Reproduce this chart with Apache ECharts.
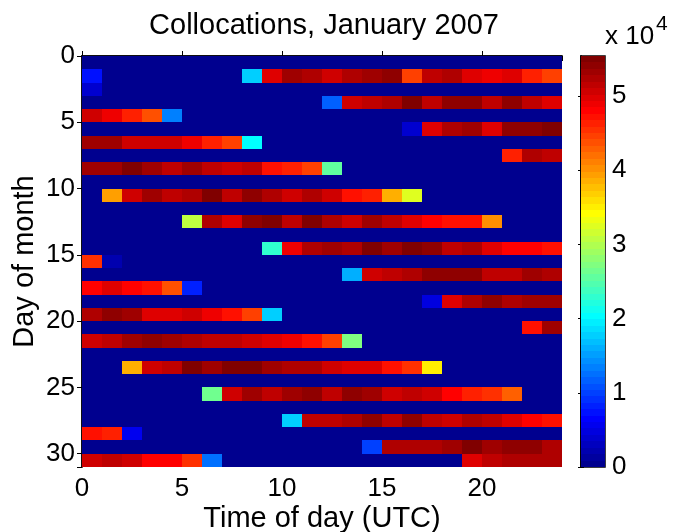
<!DOCTYPE html>
<html>
<head>
<meta charset="utf-8">
<script src="https://cdn.jsdelivr.net/npm/echarts@6/dist/echarts.min.js"></script>
<style>
  html, body { margin: 0; padding: 0; background: #fff; }
  #chart { width: 674px; height: 532px; }
</style>
</head>
<body>
<div id="chart"></div>
<script>
// Grid size: 24 hourly columns, 31 rows (one per day of the month)
const hoursPerDay = 24;
const rowsInMonth = 31;

// Axis ticks
const hourTickStep = 5;
const dayTickStep = 5;
const colorTickStep = 10000;
const colorTickScale = 1e4;   // colorbar labels are shown as multiples of 10^4
const colorMax = 55400;       // largest collocation count (top of the colour scale)

// Collocation counts: each run is a row, the hour of its first cell and the counts that follow
const runRow       = [1, 1, 2, 3, 4, 5, 6, 7, 8, 10, 12, 14, 15, 16, 17, 18, 19, 20, 21, 23, 25, 27, 28, 29, 30, 30];
const runStartHour = [0, 8, 0, 12, 0, 16, 0, 21, 0, 1, 5, 9, 0, 13, 0, 17, 0, 22, 0, 2, 6, 10, 0, 14, 0, 19];
const runCounts = [
  [7400],
  [17700, 49800, 53200, 52400, 50600, 52400, 53200, 54100, 44600, 51500, 52400, 49800, 48900, 49800, 46300, 44600],
  [3900],
  [11700, 50600, 51500, 52400, 55000, 51500, 54100, 54100, 51500, 54100, 51500, 49800],
  [50600, 48900, 46300, 43700, 13400],
  [3900, 49800, 52400, 53200, 49800, 54100, 54100, 55000],
  [53200, 53200, 50600, 50600, 50600, 48900, 46300, 44600, 20300],
  [46300, 52400, 51500],
  [53200, 53200, 55400, 53200, 51500, 53200, 51500, 50600, 51500, 47200, 46300, 44600, 25500],
  [39400, 50600, 53200, 51500, 52400, 55000, 51500, 54100, 52400, 50600, 52400, 50600, 47200, 46300, 38500, 32500],
  [30700, 52400, 49800, 54100, 55000, 51500, 55000, 52400, 50600, 53200, 51500, 49800, 48000, 47200, 47200, 40200],
  [22900, 48900, 52400, 53200, 52400, 55000, 53200, 55000, 54100, 51500, 52400, 49800, 48000, 48000, 47200],
  [45400, 2200],
  [16000, 50600, 51500, 52400, 54100, 54100, 54100, 51500, 51500, 53200, 52400],
  [48000, 49800, 48000, 47200, 43700, 8200],
  [4800, 49800, 52400, 54100, 52400, 53200, 53200],
  [52400, 54100, 53200, 49800, 49800, 50600, 48900, 47200, 44600, 17700],
  [47200, 53200],
  [50600, 51500, 53200, 54100, 53200, 52400, 51500, 51500, 50600, 49800, 48900, 47200, 44600, 27300],
  [38500, 50600, 51500, 55000, 53200, 55000, 55000, 53200, 52400, 52400, 50600, 49800, 49800, 47200, 45400, 35100],
  [26400, 50600, 53200, 51500, 53200, 54100, 51500, 54100, 53200, 50600, 51500, 50600, 48000, 46300, 45400, 42800],
  [17700, 51500, 51500, 52400, 54100, 51500, 54100, 51500, 50600, 52400, 51500, 49800, 48000, 47200],
  [47200, 46300, 5600],
  [9900, 52400, 52400, 52400, 53200, 55000, 53200, 54100, 54100, 52400],
  [50600, 51500, 50600, 48000, 48000, 45400, 12600],
  [49800, 51500, 52400, 52400, 52400]
];

// Full day x hour table; hours without collocations hold 0
const table = Array.from({ length: rowsInMonth }, () => new Array(hoursPerDay).fill(0));
runRow.forEach((row, k) => {
  runCounts[k].forEach((v, j) => { table[row][runStartHour[k] + j] = v; });
});
const cells = [];
table.forEach((row, r) => row.forEach((v, h) => cells.push([h, r, v])));

// 64-step "jet" colour map
function jet(n) {
  const m = Math.ceil(n / 4);
  const u = [];
  for (let i = 1; i <= m; i++) u.push(i / m);
  for (let i = 1; i < m; i++) u.push(1);
  for (let i = m; i >= 1; i--) u.push(i / m);
  const g0 = Math.ceil(m / 2) - (n % 4 === 1 ? 1 : 0);
  const cmap = Array.from({ length: n }, () => [0, 0, 0]);
  u.forEach((val, k) => {
    const g = g0 + k + 1, r = g + m, b = g - m;
    if (g >= 1 && g <= n) cmap[g - 1][1] = val;
    if (r >= 1 && r <= n) cmap[r - 1][0] = val;
    if (b >= 1 && b <= n) cmap[b - 1][2] = val;
  });
  return cmap.map(c => 'rgb(' + c.map(x => Math.round(x * 255)).join(',') + ')');
}
const levels = 64;
const colors = jet(levels);
const step = colorMax / levels;
const pieces = colors.map((c, i) => (
  i === levels - 1 ? { gte: i * step, lte: colorMax, color: c } : { gte: i * step, lt: (i + 1) * step, color: c }
));
const colorbarCells = colors.map((c, i) => [i * step, (i + 1) * step, (i + 0.5) * step]);

const FONT = "'Liberation Sans', Arial, Helvetica, sans-serif";
const black = '#000';

function frameAxis(extra) {
  return Object.assign({
    type: 'value',
    axisLine: { show: true, lineStyle: { color: black, width: 1.5 } },
    axisTick: { show: true, inside: true, length: 5, lineStyle: { color: black, width: 1 } },
    axisLabel: { show: false },
    splitLine: { show: false }
  }, extra);
}
const tickLabel = { show: true, color: black, fontSize: 26, fontFamily: FONT, showMaxLabel: false };

// Rectangle between two data corners, snapped to whole pixels so cells meet without seams
function cellRect(a, b, col) {
  const x0 = Math.round(Math.min(a[0], b[0])), x1 = Math.round(Math.max(a[0], b[0]));
  const y0 = Math.round(Math.min(a[1], b[1])), y1 = Math.round(Math.max(a[1], b[1]));
  return { type: 'rect', shape: { x: x0, y: y0, width: x1 - x0, height: y1 - y0 }, style: { fill: col } };
}

const chart = echarts.init(document.getElementById('chart'), null, { renderer: 'canvas' });
chart.setOption({
  animation: false,
  backgroundColor: '#fff',
  title: {
    text: 'Collocations, January 2007',
    left: 319, top: 6, textAlign: 'center',
    textStyle: { color: black, fontSize: 29, fontWeight: 'normal', fontFamily: FONT }
  },
  graphic: [
    { type: 'text', x: 605, y: 37, style: { text: 'x 10', fill: black, font: '26px ' + FONT, textAlign: 'left', textVerticalAlign: 'middle' } },
    { type: 'text', x: 656, y: 24, style: { text: '4', fill: black, font: '21px ' + FONT, textAlign: 'left', textVerticalAlign: 'middle' } }
  ],
  grid: [
    { left: 82, right: 112, top: 56, bottom: 65, outerBoundsMode: 'none', containLabel: false },
    { left: 581, width: 24, top: 56, bottom: 65, outerBoundsMode: 'none', containLabel: false,
      show: true, borderColor: black, borderWidth: 1.5, backgroundColor: 'transparent' }
  ],
  xAxis: [
    frameAxis({
      gridIndex: 0, position: 'bottom', min: 0, max: hoursPerDay, interval: hourTickStep,
      axisLabel: Object.assign({}, tickLabel, { margin: 9 }),
      name: 'Time of day (UTC)', nameLocation: 'middle', nameGap: 37, nameMoveOverlap: false,
      nameTextStyle: { color: black, fontSize: 29, fontFamily: FONT }
    }),
    frameAxis({ gridIndex: 0, position: 'top', min: 0, max: hoursPerDay, interval: hourTickStep }),
    { type: 'value', gridIndex: 1, min: 0, max: 1, show: false }
  ],
  yAxis: [
    frameAxis({
      gridIndex: 0, position: 'left', min: 0, max: rowsInMonth, interval: dayTickStep, inverse: true,
      axisLabel: Object.assign({}, tickLabel, { margin: 7 }),
      name: 'Day of month', nameLocation: 'middle', nameGap: 43, nameRotate: 90, nameMoveOverlap: false,
      nameTextStyle: { color: black, fontSize: 29, fontFamily: FONT }
    }),
    frameAxis({ gridIndex: 0, position: 'right', min: 0, max: rowsInMonth, interval: dayTickStep, inverse: true }),
    frameAxis({
      gridIndex: 1, position: 'right', min: 0, max: colorMax, interval: colorTickStep,
      axisTick: { show: true, inside: true, length: 3, lineStyle: { color: black } },
      axisLabel: Object.assign({}, tickLabel, { margin: 7, formatter: v => String(v / colorTickScale) })
    }),
    frameAxis({
      gridIndex: 1, position: 'left', min: 0, max: colorMax, interval: colorTickStep,
      axisTick: { show: true, inside: true, length: 3, lineStyle: { color: black } }
    })
  ],
  visualMap: {
    type: 'piecewise', show: false, dimension: 2, seriesIndex: [0, 1], pieces: pieces
  },
  series: [
    {
      type: 'custom', xAxisIndex: 0, yAxisIndex: 0, data: cells, silent: true,
      renderItem: (params, api) => {
        const h = api.value(0), r = api.value(1);
        return cellRect(api.coord([h, r]), api.coord([h + 1, r + 1]), api.visual('color'));
      }
    },
    {
      type: 'custom', xAxisIndex: 2, yAxisIndex: 2, data: colorbarCells, silent: true,
      renderItem: (params, api) => {
        return cellRect(api.coord([0, api.value(0)]), api.coord([1, api.value(1)]), api.visual('color'));
      }
    }
  ]
});
</script>
</body>
</html>
